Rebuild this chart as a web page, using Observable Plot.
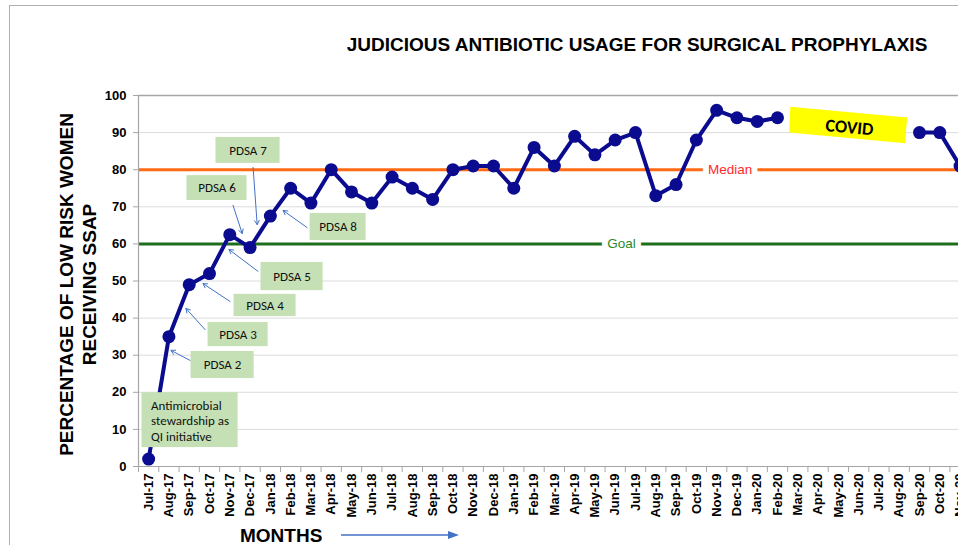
<!DOCTYPE html>
<html>
<head>
<meta charset="utf-8">
<script src="https://cdn.jsdelivr.net/npm/d3@7"></script>
<script src="https://cdn.jsdelivr.net/npm/@observablehq/plot@0.6"></script>
<style>
  html, body { margin: 0; padding: 0; background: #fff; }
  body { width: 958px; height: 545px; overflow: hidden; position: relative; font-family: "Liberation Sans", Arial, sans-serif; }
  #frame { position: absolute; left: 9px; top: 5px; width: 1200px; height: 800px; border-left: 1px solid #b0b0b0; border-top: 1px solid #b0b0b0; }
  #chart { position: absolute; left: 0; top: 0; width: 990px; }
  #title { position: absolute; left: 637px; top: 35px; transform: translateX(-50%); white-space: nowrap; font-size: 19px; line-height: 19px; font-weight: bold; color: #000; }
  #months { position: absolute; left: 240px; top: 529px; font-size: 19px; line-height: 14px; font-weight: bold; color: #000; }
  #marrow { position: absolute; left: 338px; top: 528px; }
</style>
</head>
<body>
<div id="frame"></div>
<div id="chart"></div>
<div id="title">JUDICIOUS ANTIBIOTIC USAGE FOR SURGICAL PROPHYLAXIS</div>
<div id="months">MONTHS</div>
<svg id="marrow" width="125" height="14"><line x1="3" y1="7" x2="112" y2="7" stroke="#4472c4" stroke-width="1.5"/><path d="M121,7 L110,3 L110,11 Z" fill="#4472c4"/></svg>
<script>
const months = ["Jul-17","Aug-17","Sep-17","Oct-17","Nov-17","Dec-17",
  "Jan-18","Feb-18","Mar-18","Apr-18","May-18","Jun-18","Jul-18","Aug-18","Sep-18","Oct-18","Nov-18","Dec-18",
  "Jan-19","Feb-19","Mar-19","Apr-19","May-19","Jun-19","Jul-19","Aug-19","Sep-19","Oct-19","Nov-19","Dec-19",
  "Jan-20","Feb-20","Mar-20","Apr-20","May-20","Jun-20","Jul-20","Aug-20","Sep-20","Oct-20","Nov-20","Dec-20"];
const values = [2,35,49,52,62.5,59,
  67.5,75,71,80,74,71,78,75,72,80,81,81,
  75,86,81,89,84,88,90,73,76,88,96,94,
  93,94,null,null,null,null,null,null,90,90,81,null];
const yTicks = [0,10,20,30,40,50,60,70,80,90,100];
const medianValue = 80;
const goalValue = 60;
const refLabels = [
  {label: "Median", x: 28.67, y: 80, color: "#ff2a2a"},
  {label: "Goal", x: 23.31, y: 60, color: "#2a8a2a"}
];
const pdsaBoxes = [
  {label: "PDSA 7", x1: 3.32, x2: 6.48, y1: 81.7, y2: 88.7},
  {label: "PDSA 6", x1: 1.89, x2: 4.85, y1: 71.7, y2: 78.4},
  {label: "PDSA 8", x1: 7.96, x2: 10.72, y1: 60.9, y2: 68.2},
  {label: "PDSA 5", x1: 5.54, x2: 8.60, y1: 47.4, y2: 55.0},
  {label: "PDSA 4", x1: 4.21, x2: 7.27, y1: 40.4, y2: 46.4},
  {label: "PDSA 3", x1: 2.93, x2: 5.89, y1: 32.3, y2: 38.8},
  {label: "PDSA 2", x1: 2.09, x2: 5.20, y1: 23.7, y2: 31.0}
];
const startBox = {label: "Antimicrobial\nstewardship as\nQI initiative", x1: -0.33, x2: 4.41, y1: 5.1, y2: 19.9, tx: 0.12, ty: 12.4};
const pdsaArrows = [
  {x1: 5.15, y1: 80.6, x2: 5.35, y2: 65.2},
  {x1: 4.16, y1: 70.4, x2: 4.61, y2: 62.8},
  {x1: 7.81, y1: 64.4, x2: 6.63, y2: 69.0},
  {x1: 5.39, y1: 52.6, x2: 3.96, y2: 58.5},
  {x1: 4.01, y1: 44.5, x2: 2.68, y2: 49.3},
  {x1: 2.78, y1: 36.9, x2: 1.84, y2: 42.6},
  {x1: 2.04, y1: 28.6, x2: 1.10, y2: 31.3}
];
const covidShape = [
  {x: 31.63, y: 97.0}, {x: 37.39, y: 94.1}, {x: 37.29, y: 87.1}, {x: 31.58, y: 90.0}, {x: 31.63, y: 97.0}
];
const covidLabel = {text: "COVID", x: 34.55, y: 91.4};
const yLabel = "PERCENTAGE OF LOW RISK WOMEN\nRECEIVING SSAP";

const series = months.map((m, i) => ({i, month: m, v: values[i]}));
const navy = "#0b0b8f";
const grey = "#a6a6a6";
const calibri = "Carlito, Lato, 'Open Sans', sans-serif";

const chart = Plot.plot({
  width: 990,
  height: 545,
  marginLeft: 138,
  marginRight: 0,
  marginTop: 95,
  marginBottom: 79,
  style: {fontFamily: "'Liberation Sans', Arial, sans-serif", background: "transparent", overflow: "visible", maxWidth: "none"},
  x: {type: "linear", domain: [-0.5, months.length - 0.5], axis: null},
  y: {domain: [0, 100], axis: null},
  marks: [
    Plot.gridY(yTicks.filter(t => t > 0 && t < 100), {stroke: "#dcdcdc", strokeOpacity: 1}),
    Plot.ruleY([100], {stroke: grey, strokeWidth: 1.5}),
    Plot.ruleY([medianValue], {stroke: "#ff6a13", strokeWidth: 3}),
    Plot.ruleY([goalValue], {stroke: "#1e6e1e", strokeWidth: 3}),
    Plot.text(refLabels, {x: "x", y: "y", text: "label", fill: "color", stroke: "white", strokeWidth: 12, fontSize: 13.5}),
    Plot.ruleX([-0.5], {stroke: grey, strokeWidth: 1.2}),
    Plot.ruleY([0], {stroke: grey, strokeWidth: 1.2}),
    Plot.axisY(yTicks, {tickSize: 5, tickPadding: 7, fontSize: 13, fontWeight: "bold", stroke: grey, fill: "black", label: null}),
    Plot.axisX(d3.range(months.length), {tickFormat: i => months[i], tickSize: 0, tickPadding: 7, tickRotate: -90, fontSize: 13, fontWeight: "bold", fill: "black", label: null}),
    Plot.axisX(d3.range(-0.5, months.length, 1), {tickFormat: () => "", tickSize: 6, stroke: grey, label: null}),
    Plot.line(series, {x: "i", y: "v", stroke: navy, strokeWidth: 4}),
    Plot.dot(series.filter(d => d.v != null), {x: "i", y: "v", r: 6.5, fill: navy, stroke: null}),
    Plot.line(covidShape, {x: "x", y: "y", fill: "#ffff00", stroke: null}),
    Plot.text([covidLabel], {x: "x", y: "y", text: "text", rotate: 5.4, fontSize: 18, fontWeight: "bold", fontFamily: calibri, fill: "black"}),
    Plot.rect(pdsaBoxes, {x1: "x1", x2: "x2", y1: "y1", y2: "y2", fill: "#c5e0b4"}),
    Plot.text(pdsaBoxes, {x: d => (d.x1 + d.x2) / 2, y: d => (d.y1 + d.y2) / 2, text: "label", fontSize: 13, fontFamily: calibri, fill: "#111"}),
    Plot.rect([startBox], {x1: "x1", x2: "x2", y1: "y1", y2: "y2", fill: "#c5e0b4"}),
    Plot.text([startBox], {x: "tx", y: "ty", text: "label", textAnchor: "start", lineHeight: 1.18, fontSize: 13, fontFamily: calibri, fill: "#111"}),
    Plot.arrow(pdsaArrows, {x1: "x1", y1: "y1", x2: "x2", y2: "y2", stroke: "#4472c4", strokeWidth: 1, headLength: 7}),
    Plot.text([yLabel], {frameAnchor: "left", text: d => d, rotate: -90, dx: -61, dy: 3.5, textAnchor: "middle", lineAnchor: "middle", lineHeight: 1.21, fontSize: 19, fontWeight: "bold", fill: "black"})
  ]
});
document.getElementById("chart").appendChild(chart);
</script>
</body>
</html>
